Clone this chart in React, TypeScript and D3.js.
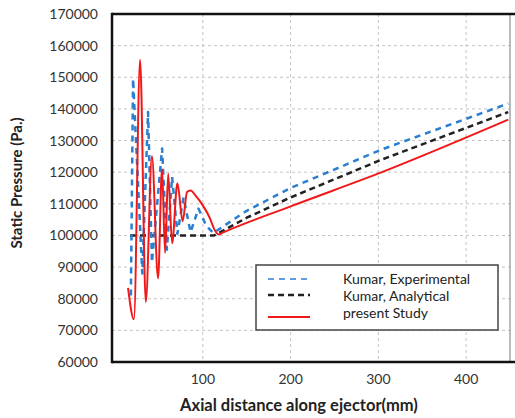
import React, { useEffect, useRef } from 'react';
import * as d3 from 'd3';

// Axial distance (mm) / static pressure (Pa)
const expX = [18, 20.5, 31, 37.6, 42, 53.6, 59, 65, 71, 78, 86, 95, 104, 112, 150, 200, 304, 448];
const expY = [81000, 149500, 88000, 139000, 91500, 127500, 95500, 118500, 100500, 112000, 101000, 108500, 103000, 100800, 107800, 115000, 127200, 141700];

const anaX = [17, 113, 150, 200, 304, 448];
const anaY = [100000, 100000, 105600, 112000, 124000, 139000];

const studyX = [14.8, 21.5, 28.5, 35, 42, 49, 53.5, 57, 60.5, 65, 71, 77, 82, 86, 92, 100, 108, 113, 118, 122, 200, 304, 448];
const studyY = [83400, 73500, 155500, 79000, 125000, 86500, 121000, 94500, 119500, 97500, 116500, 104500, 113700, 114200, 112500, 109500, 105500, 102000, 100300, 100800, 109200, 120000, 136600];

const yTicks = [60000, 70000, 80000, 90000, 100000, 110000, 120000, 130000, 140000, 150000, 160000, 170000];
const xTicks = [100, 200, 300, 400];

const legendItems = [
  { label: 'Kumar, Experimental', color: '#2a7fd0', dash: '6,5' },
  { label: 'Kumar, Analytical', color: '#222', dash: '6,4' },
  { label: 'present Study', color: '#f01818', dash: '' },
];

const W = 515;
const H = 418;

const App: React.FC = () => {
  const svgRef = useRef<SVGSVGElement | null>(null);

  useEffect(() => {
    const svg = d3.select(svgRef.current);
    svg.selectAll('*').remove();

    const left = 112, right = 510, top = 14, bottom = 362;
    const x = d3.scaleLinear().domain([-3.5, 450]).range([left, right]);
    const y = d3.scaleLinear().domain([60000, 170000]).range([bottom, top]);
    const font = 'Lato, "Open Sans", sans-serif';

    svg.append('rect').attr('width', W).attr('height', H).attr('fill', '#fff');

    // grid
    const grid = svg.append('g');
    grid.selectAll('line.h')
      .data(yTicks.slice(1, -1))
      .join('line')
      .attr('x1', left).attr('x2', right)
      .attr('y1', (d) => y(d)).attr('y2', (d) => y(d))
      .attr('stroke', '#c4c4c4').attr('stroke-dasharray', '3,3');
    grid.selectAll('line.v')
      .data(xTicks)
      .join('line')
      .attr('x1', (d) => x(d)).attr('x2', (d) => x(d))
      .attr('y1', top).attr('y2', bottom)
      .attr('stroke', '#c4c4c4').attr('stroke-dasharray', '3,3');

    // tick labels
    svg.append('g')
      .selectAll('text')
      .data(yTicks)
      .join('text')
      .attr('x', 98).attr('y', (d) => y(d) + 5)
      .attr('text-anchor', 'end')
      .attr('font-family', font).attr('font-size', 14)
      .attr('fill', '#333')
      .text((d) => String(d));
    svg.append('g')
      .selectAll('text')
      .data(xTicks)
      .join('text')
      .attr('x', (d) => x(d)).attr('y', 384)
      .attr('text-anchor', 'middle')
      .attr('font-family', font).attr('font-size', 14)
      .attr('fill', '#333')
      .text((d) => String(d));

    // axis titles
    svg.append('text')
      .attr('transform', `translate(22,${183}) rotate(-90)`)
      .attr('text-anchor', 'middle')
      .attr('font-family', font).attr('font-size', 15).attr('font-weight', 'bold')
      .attr('fill', '#222')
      .text('Static Pressure (Pa.)');
    svg.append('text')
      .attr('x', 299).attr('y', 411)
      .attr('text-anchor', 'middle')
      .attr('font-family', font).attr('font-size', 16.5).attr('font-weight', 'bold')
      .attr('fill', '#222')
      .text('Axial distance along ejector(mm)');

    // series
    const plot = svg.append('g');
    const line = d3.line<[number, number]>()
      .x((d) => x(d[0])).y((d) => y(d[1]));

    const series = [
      { xs: anaX, ys: anaY, ...legendItems[1], w: 2.5, curve: d3.curveLinear },
      { xs: expX, ys: expY, ...legendItems[0], w: 2.5, curve: d3.curveLinear },
      { xs: studyX, ys: studyY, ...legendItems[2], w: 2, curve: d3.curveMonotoneX },
    ];
    series.forEach((s) => {
      const pts = s.xs.map((v, i) => [v, s.ys[i]] as [number, number]);
      plot.append('path')
        .attr('d', line.curve(s.curve)(pts))
        .attr('fill', 'none')
        .attr('stroke', s.color)
        .attr('stroke-width', s.w)
        .attr('stroke-dasharray', s.dash || null)
        .attr('stroke-linejoin', 'round');
    });

    // frame
    svg.append('line').attr('x1', right).attr('x2', right).attr('y1', top).attr('y2', bottom)
      .attr('stroke', '#777').attr('stroke-width', 1);
    svg.append('line').attr('x1', left).attr('x2', W).attr('y1', top).attr('y2', top)
      .attr('stroke', '#111').attr('stroke-width', 2.5);
    svg.append('line').attr('x1', left).attr('x2', W).attr('y1', bottom).attr('y2', bottom)
      .attr('stroke', '#111').attr('stroke-width', 2.5);
    svg.append('line').attr('x1', left).attr('x2', left).attr('y1', top - 1.25).attr('y2', bottom + 1.25)
      .attr('stroke', '#111').attr('stroke-width', 2.5);

    // legend
    const lg = svg.append('g');
    lg.append('rect')
      .attr('x', 256).attr('y', 265).attr('width', 242).attr('height', 65)
      .attr('fill', '#fff').attr('stroke', '#444').attr('stroke-width', 1.5);
    legendItems.forEach((it, i) => {
      const ly = [279, 295, 317][i];
      lg.append('line')
        .attr('x1', 268).attr('x2', 310).attr('y1', ly).attr('y2', ly)
        .attr('stroke', it.color).attr('stroke-width', i === 0 ? 1.5 : i === 1 ? 2.5 : 2)
        .attr('stroke-dasharray', it.dash || null);
      lg.append('text')
        .attr('x', 343).attr('y', [284, 301, 318][i])
        .attr('font-family', font).attr('font-size', 14)
        .attr('fill', '#222')
        .text(it.label);
    });
  }, []);

  return (
    <svg
      ref={svgRef}
      width={W}
      height={H}
      style={{ position: 'absolute', left: 0, top: 0 }}
    />
  );
};

export default App;
